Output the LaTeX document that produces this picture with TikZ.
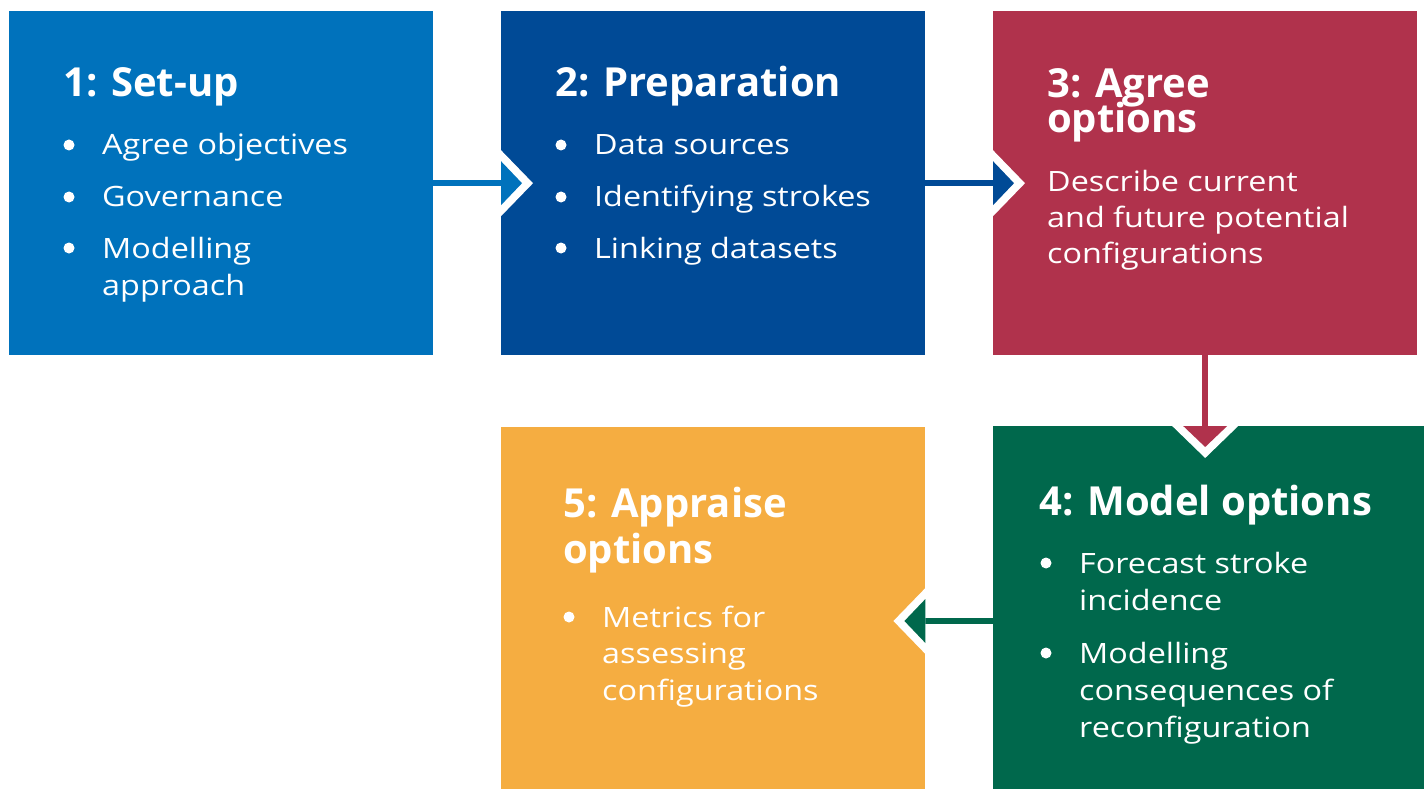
\documentclass[tikz,border=0pt]{standalone}
\usepackage{fontspec}
\setmainfont{Open Sans}
\newfontfamily\bodyf[FakeStretch=1.155]{Open Sans}
\usetikzlibrary{calc}
\definecolor{cA}{RGB}{0,114,188}
\definecolor{cB}{RGB}{0,74,150}
\definecolor{cC}{RGB}{176,50,76}
\definecolor{cD}{RGB}{0,104,76}
\definecolor{cE}{RGB}{245,173,65}
\tikzset{
  box/.style={draw=none, inner sep=0, anchor=north west},
  ttl/.style={anchor=base west, text=white, inner sep=0, font=\fontsize{40}{44}\selectfont\bfseries},
  txt/.style={anchor=base west, text=white, inner sep=0, font=\bodyf\fontsize{28}{34}\selectfont},
  bul/.style={fill=white, circle, inner sep=0, minimum size=11},
  link/.style={line width=6, line cap=butt},
}
\begin{document}
\begin{tikzpicture}[x=1pt,y=-1pt]
\useasboundingbox (0,0) rectangle (1425,789);
% boxes
\node[box, fill=cA, minimum width=424, minimum height=344] (b1) at (9,11) {};
\node[box, fill=cB, minimum width=424, minimum height=344] (b2) at (501,11) {};
\node[box, fill=cC, minimum width=424, minimum height=344] (b3) at (993,11) {};
\node[box, fill=cD, minimum width=431, minimum height=363] (b4) at (993,426) {};
\node[box, fill=cE, minimum width=424, minimum height=362] (b5) at (501,427) {};
% connectors
\coordinate (p45) at (b4.west |- 0,621);
\coordinate (p54) at (b5.east |- 0,621);
\draw[link, cA] (b1.east) -- (b2.west);
\fill[white] ($(b2.west)+(0,-33)$) -- ($(b2.west)+(32,0)$) -- ($(b2.west)+(0,33)$) -- cycle;
\fill[cA] ($(b2.west)+(0,-22)$) -- ($(b2.west)+(21,0)$) -- ($(b2.west)+(0,22)$) -- cycle;
\draw[link, cB] (b2.east) -- (b3.west);
\fill[white] ($(b3.west)+(0,-33)$) -- ($(b3.west)+(32,0)$) -- ($(b3.west)+(0,33)$) -- cycle;
\fill[cB] ($(b3.west)+(0,-22)$) -- ($(b3.west)+(21,0)$) -- ($(b3.west)+(0,22)$) -- cycle;
\draw[link, cC] (b3.south) -- (b3.south |- b4.north);
\coordinate (p34) at (b3.south |- b4.north);
\fill[white] ($(p34)+(-33,0)$) -- ($(p34)+(0,32)$) -- ($(p34)+(33,0)$) -- cycle;
\fill[cC] ($(p34)+(-22,0)$) -- ($(p34)+(0,21)$) -- ($(p34)+(22,0)$) -- cycle;
\draw[link, cD] (p45) -- (p54);
\fill[white] ($(p54)+(0,-33)$) -- ($(p54)+(-32,0)$) -- ($(p54)+(0,33)$) -- cycle;
\fill[cD] ($(p54)+(0,-22)$) -- ($(p54)+(-21,0)$) -- ($(p54)+(0,22)$) -- cycle;
% box 1
\node[ttl] (t1) at (63,97) {1: Set-up};
\node[bul] (u11) at (69,145) {};
\node[txt] (l11) at (102,155) {Agree objectives};
\node[bul] (u12) at (69,197) {};
\node[txt] (l12) at (102,207) {Governance};
\node[bul] (u13) at (69,248) {};
\node[txt] (l13) at (102,258) {Modelling};
\node[txt] (l14) at (102,295) {approach};
% box 2
\node[ttl] (t2) at (555,97) {2: Preparation};
\node[bul] (u21) at (561,145) {};
\node[txt] (l21) at (594,155) {Data sources};
\node[bul] (u22) at (561,197) {};
\node[txt] (l22) at (594,207) {Identifying strokes};
\node[bul] (u23) at (561,248) {};
\node[txt] (l23) at (594,258) {Linking datasets};
% box 3
\node[ttl] (t3) at (1047,98) {3: Agree};
\node[ttl] (t3b) at (1047,133) {options};
\node[txt] (l31) at (1047,192) {Describe current};
\node[txt] (l32) at (1047,227) {and future potential};
\node[txt] (l33) at (1047,263) {configurations};
% box 4
\node[ttl] (t4) at (1039,515) {4: Model options};
\node[bul] (u41) at (1046,563) {};
\node[txt] (l41) at (1079,573) {Forecast stroke};
\node[txt] (l42) at (1079,610) {incidence};
\node[bul] (u42) at (1046,653) {};
\node[txt] (l43) at (1079,663) {Modelling};
\node[txt] (l44) at (1079,700) {consequences of};
\node[txt] (l45) at (1079,737) {reconfiguration};
% box 5
\node[ttl] (t5) at (563,517) {5: Appraise};
\node[ttl] (t5b) at (563,563) {options};
\node[bul] (u51) at (569,617) {};
\node[txt] (l51) at (602,627) {Metrics for};
\node[txt] (l52) at (602,663) {assessing};
\node[txt] (l53) at (602,700) {configurations};
\end{tikzpicture}
\end{document}
